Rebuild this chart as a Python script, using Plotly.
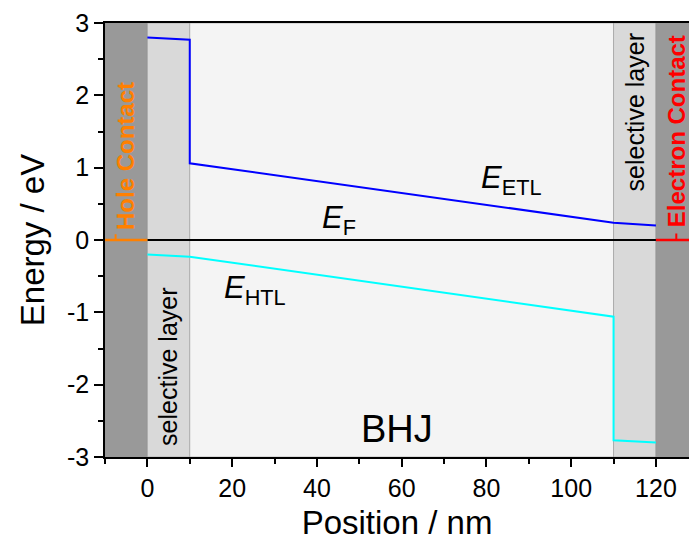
import plotly.graph_objects as go

# ---- data ----
etl_x = [0, 10, 10, 110, 120]
etl_y = [2.80, 2.77, 1.06, 0.24, 0.20]
htl_x = [0, 10, 110, 110, 120]
htl_y = [-0.20, -0.23, -1.06, -2.77, -2.80]
ef_x = [0, 120]
ef_y = [0, 0]
hole_x = [-10, 0]
hole_y = [0, 0]
elec_x = [120, 130]
elec_y = [0, 0]
hole_tick_x = [-7.5, -7.5]
hole_tick_y = [0, 0.08]
elec_tick_x = [124.8, 124.8]
elec_tick_y = [0, 0.09]

region_x0 = [-10, 0, 10, 110, 120]
region_x1 = [0, 10, 110, 120, 130]
region_fill = ["#999999", "#d9d9d9", "#f4f4f4", "#d9d9d9", "#999999"]

x_ticks = [0, 20, 40, 60, 80, 100, 120]
y_ticks = [-3, -2, -1, 0, 1, 2, 3]
y_tick_text = ["-3", "-2", "-1", "0", "1", "2", "3"]

FONT = "Liberation Sans, Arial, sans-serif"

fig = go.Figure()

for x0, x1, c in zip(region_x0, region_x1, region_fill):
    fig.add_shape(type="rect", xref="x", yref="y", x0=x0, x1=x1, y0=-3, y1=3,
                  fillcolor=c, line=dict(color="rgba(150,150,150,0.6)", width=1),
                  layer="below")

fig.add_trace(go.Scatter(x=ef_x, y=ef_y, mode="lines", line=dict(color="black", width=2.2)))
fig.add_trace(go.Scatter(x=hole_x, y=hole_y, mode="lines", line=dict(color="#ff8000", width=2.5)))
fig.add_trace(go.Scatter(x=hole_tick_x, y=hole_tick_y, mode="lines", line=dict(color="#ff8000", width=2)))
fig.add_trace(go.Scatter(x=elec_x, y=elec_y, mode="lines", line=dict(color="#ff0000", width=2.5)))
fig.add_trace(go.Scatter(x=elec_tick_x, y=elec_tick_y, mode="lines", line=dict(color="#ff0000", width=2)))
fig.add_trace(go.Scatter(x=etl_x, y=etl_y, mode="lines", line=dict(color="#0000ff", width=2)))
fig.add_trace(go.Scatter(x=htl_x, y=htl_y, mode="lines", line=dict(color="#00ffff", width=2)))

ann = [
    dict(x=-5.3, y=1.16, text="<b>Hole Contact</b>", textangle=-90,
         font=dict(size=24, color="#ff8000", family=FONT)),
    dict(x=124.9, y=1.5, text="<b>Electron Contact</b>", textangle=-90,
         font=dict(size=24, color="#ff0000", family=FONT)),
    dict(x=5, y=-1.76, text="selective layer", textangle=-90,
         font=dict(size=25, color="black", family=FONT)),
    dict(x=115, y=1.76, text="selective layer", textangle=-90,
         font=dict(size=25, color="black", family=FONT)),
    dict(x=58.8, y=-2.61, text="BHJ", font=dict(size=38, color="black", family=FONT)),
    dict(x=85.8, y=0.83, text="<i>E</i><sub>ETL</sub>", font=dict(size=31, color="black", family=FONT)),
    dict(x=45.1, y=0.28, text="<i>E</i><sub>F</sub>", font=dict(size=31, color="black", family=FONT)),
    dict(x=25.3, y=-0.69, text="<i>E</i><sub>HTL</sub>", font=dict(size=31, color="black", family=FONT)),
]
for a in ann:
    fig.add_annotation(xref="x", yref="y", showarrow=False, xanchor="center", yanchor="middle", **a)

fig.update_layout(
    width=689, height=546,
    margin=dict(l=105, r=0, t=23, b=89),
    paper_bgcolor="white", plot_bgcolor="white",
    showlegend=False,
    font=dict(family=FONT, color="black"),
    xaxis=dict(range=[-10, 127.8], tickvals=x_ticks, ticks="outside", ticklen=8, tickwidth=1.5,
               tickcolor="black", showline=True, linecolor="black", linewidth=1.5, mirror=True,
               showgrid=False, zeroline=False, tickfont=dict(size=25, family=FONT),
               minor=dict(dtick=10, tick0=0, ticks="outside", ticklen=5, tickwidth=1.5, tickcolor="black"),
               title=dict(text="Position / nm", font=dict(size=33, family=FONT), standoff=10)),
    yaxis=dict(range=[-3, 3], tickvals=y_ticks, ticktext=y_tick_text, ticks="outside", ticklen=9,
               tickwidth=1.5, tickcolor="black", showline=True, linecolor="black", linewidth=1.5,
               mirror=False, showgrid=False, zeroline=False, tickfont=dict(size=25, family=FONT),
               minor=dict(dtick=0.5, tick0=0, ticks="outside", ticklen=5, tickwidth=1.5, tickcolor="black"),
               title=dict(text="Energy / eV", font=dict(size=33, family=FONT), standoff=12)),
)

fig.write_html("out.html")
